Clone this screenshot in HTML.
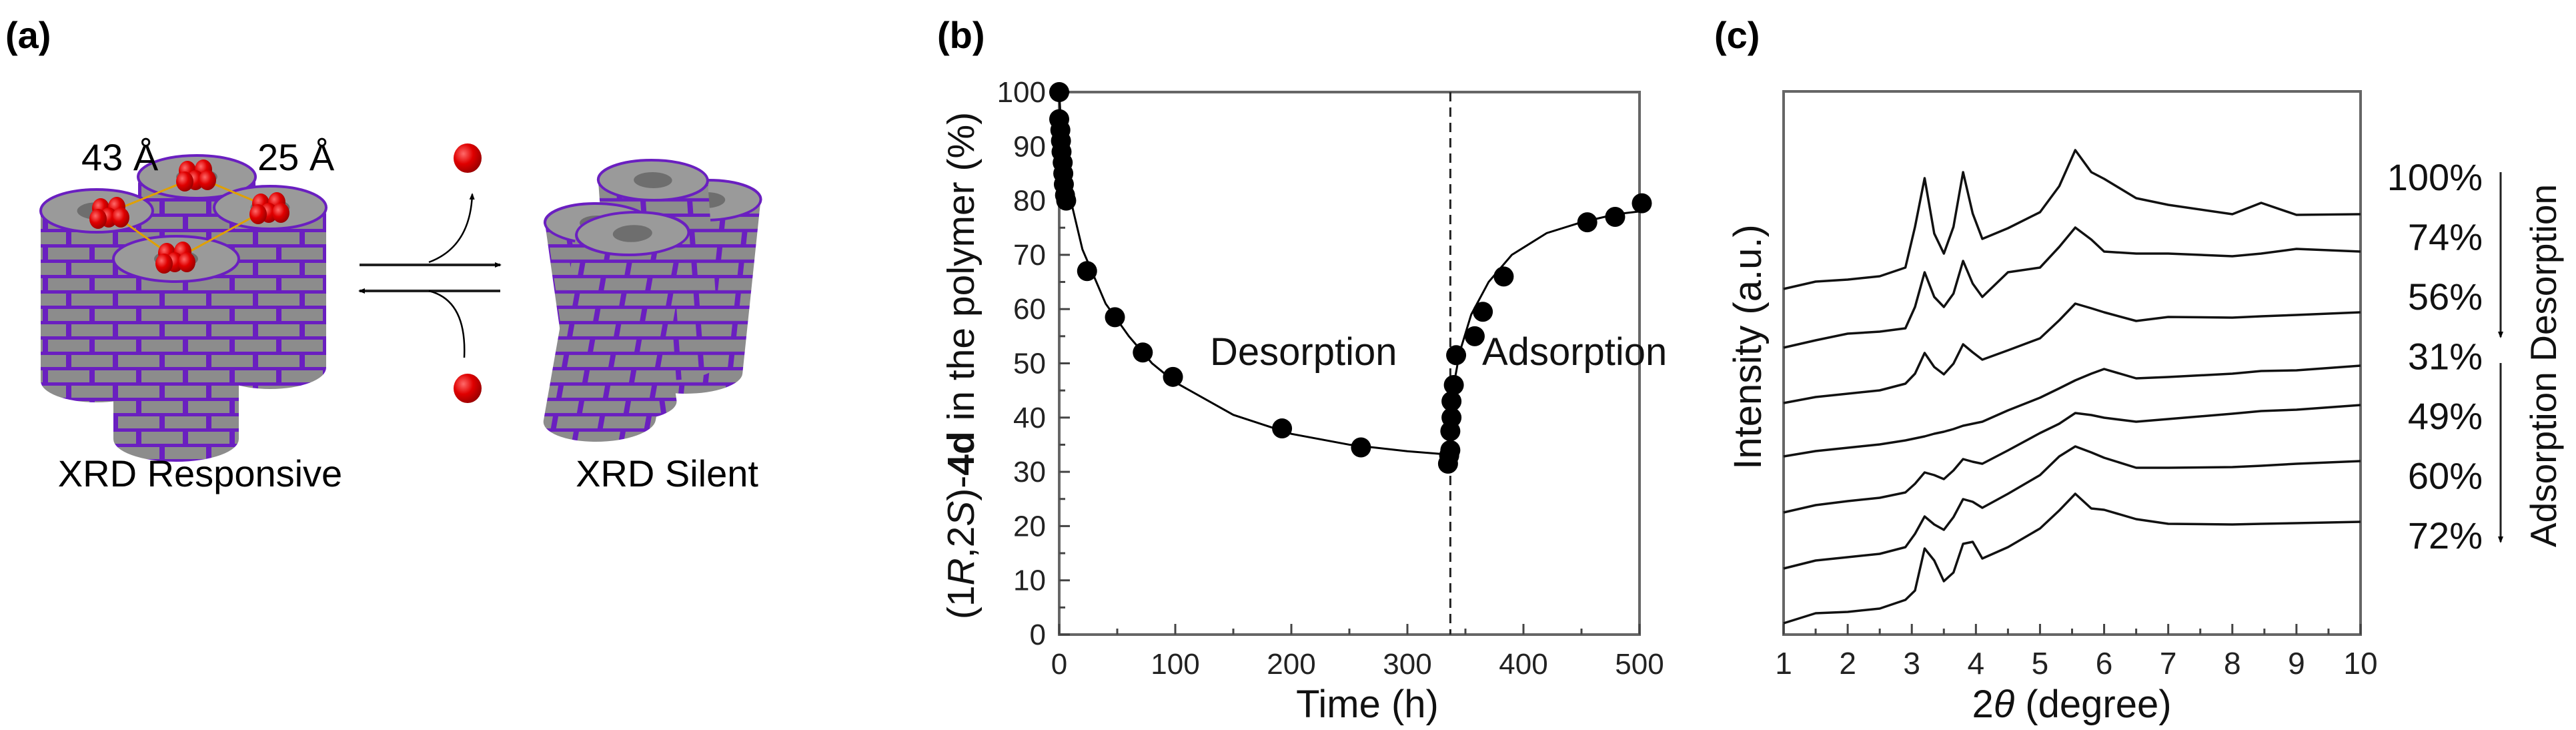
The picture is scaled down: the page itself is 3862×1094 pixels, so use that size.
<!DOCTYPE html>
<html><head><meta charset="utf-8"><style>
html,body{margin:0;padding:0;background:#fff;}
svg{display:block;font-family:"Liberation Sans",Arial,sans-serif;}
</style></head><body>
<svg id="fig" width="3862" height="1094" viewBox="0 0 3862 1094" xmlns="http://www.w3.org/2000/svg">
<defs>
<pattern id="brick" width="70" height="46" patternUnits="userSpaceOnUse">
<rect width="70" height="46" fill="#6a1fc0"/>
<rect x="2" y="3" width="62" height="18" fill="#8c8c8c"/>
<rect x="-33" y="26" width="62" height="18" fill="#8c8c8c"/>
<rect x="37" y="26" width="62" height="18" fill="#8c8c8c"/>
</pattern>
<radialGradient id="ball" cx="0.35" cy="0.35" r="0.7"><stop offset="0" stop-color="#ff6a6a"/><stop offset="0.5" stop-color="#e00000"/><stop offset="1" stop-color="#900"/></radialGradient>
<marker id="ah" markerWidth="10" markerHeight="10" refX="8" refY="5" orient="auto" markerUnits="userSpaceOnUse"><path d="M0,1 L10,5 L0,9 Z" fill="#000"/></marker>
</defs>

<!-- panel labels -->
<text x="8" y="72" font-size="56" font-weight="bold">(a)</text>
<text x="1405" y="72" font-size="56" font-weight="bold">(b)</text>
<text x="2570" y="72" font-size="56" font-weight="bold">(c)</text>

<!-- panel a illustration -->
<g id="panelA"></g>
<text x="122" y="255" font-size="56">43 Å</text>
<text x="386" y="255" font-size="56">25 Å</text>
<text x="300" y="729" font-size="56" text-anchor="middle">XRD Responsive</text>
<text x="1000" y="729" font-size="56" text-anchor="middle">XRD Silent</text>
<g>
<line x1="539" y1="397" x2="750" y2="397" stroke="#222" stroke-width="4" marker-end="url(#ah)"/>
<line x1="750" y1="436" x2="539" y2="436" stroke="#222" stroke-width="4" marker-end="url(#ah)"/>
<path d="M643,393 Q705,370 708,291" fill="none" stroke="#000" stroke-width="2.5" marker-end="url(#ah)"/>
<path d="M696,536 Q700,450 643,436" fill="none" stroke="#000" stroke-width="2.5"/>
</g>
<ellipse cx="701" cy="237" rx="21" ry="22" fill="url(#ball)"/>
<ellipse cx="701" cy="582" rx="21" ry="22" fill="url(#ball)"/>

<!-- panel b -->
<g id="panelB"></g>
<!-- panel c -->
<g id="panelC"></g>
</svg>
<script>
// ===== Panel B data =====
const bTime = [0,0,1,1.5,2,3,3.5,4,5,6,24,48,72,98,192,260,335,336,337,337,338,338,340,342,358,365,383,455,479,502];
const bValue = [100,95,93,91,89,87,85,83,81,80,67,58.5,52,47.5,38,34.5,31.5,33,34,37.5,40,43,46,51.5,55,59.5,66,76,77,79.5];
const desFitTime = [0,2,5,10,20,40,60,80,100,150,200,250,300,335];
const desFitValue = [100,92,86,80,71,61,55,50,46.5,40.5,37,35,33.8,33.2];
const adsFitTime = [335,337,340,345,355,370,390,420,450,480,500];
const adsFitValue = [33,40,46,52,59,65,70,74,76,77.5,78];
const bXTicks = [0,100,200,300,400,500];
const bYTicks = [0,10,20,30,40,50,60,70,80,90,100];
const switchTime = 337;

// ===== Panel C data =====
const cTheta = [1,1.5,2,2.5,2.9,3.05,3.2,3.35,3.5,3.65,3.8,3.95,4.1,4.5,5,5.3,5.55,5.8,6,6.5,7,8,8.45,9,10];
const trace100 = [518,529,532,537,550,611,684,601,571,611,693,631,593,609,633,672,726,693,683,654,644,630,647,629,630];
const trace74 = [430,441,451,454,459,491,543,506,491,511,560,526,506,543,550,581,610,592,574,571,571,567,571,578,574];
const trace56 = [347,356,361,366,376,391,422,401,390,406,435,423,412,426,444,471,496,489,483,470,476,475,477,479,483];
const trace31 = [267,275,280,285,291,294,297,301,304,308,313,316,319,336,355,369,381,391,398,384,386,391,395,396,403];
const trace49 = [183,194,200,205,213,226,243,239,233,246,263,259,256,276,302,316,332,329,325,319,323,331,335,337,344];
const trace60 = [99,111,116,121,131,151,177,165,157,176,203,199,190,211,239,267,282,273,265,250,250,251,253,256,260];
const trace72 = [17,32,34,39,52,66,129,111,80,93,136,139,114,131,159,186,211,189,187,173,166,165,166,167,169];
const cLabels = ["100%","74%","56%","31%","49%","60%","72%"];
const cXTicks = [1,2,3,4,5,6,7,8,9,10];

const NS = "http://www.w3.org/2000/svg";
function mk(tag, attrs, parent){const e=document.createElementNS(NS,tag);for(const k in attrs)e.setAttribute(k,attrs[k]);parent.appendChild(e);return e;}

// ----- Panel A drawing -----
(function(){
  const g=document.getElementById('panelA');
  function column(cx,top,bot,rx,ry,name,skew){
    const c=mk('g',{transform:skew?`translate(${cx},0) skewX(${skew}) translate(${-cx},0)`:''},g);
    
    
    mk('path',{d:`M${cx-rx},${top} L${cx-rx},${bot} A${rx},${ry} 0 0 0 ${cx+rx},${bot} L${cx+rx},${top} Z`,fill:'url(#brick)'},c);
    mk('ellipse',{cx:cx,cy:top,rx:rx,ry:ry,fill:'#9a9a9a',stroke:'#6a1fc0','stroke-width':4},c);
    mk('ellipse',{cx:cx,cy:top,rx:rx*0.35,ry:ry*0.4,fill:'#6e6e6e'},c);
  }
  column(295,265,520,88,32,'column-back');
  column(145,316,571,84,32,'column-left');
  column(405,311,551,84,32,'column-right');
  column(264,388,658,94,34,'column-front');
  const cell=mk('polygon',{points:'165,318 295,265 405,311 264,388',fill:'none',stroke:'#e0a000','stroke-width':3},g);
  
  
  [[295,262],[165,318],[405,311],[264,385]].forEach((p,i)=>{
    [[-14,-6],[10,-8],[-2,8],[16,8],[-18,10]].forEach(o=>{
      const b=mk('ellipse',{cx:p[0]+o[0],cy:p[1]+o[1],rx:13,ry:15,fill:'url(#ball)'},g);
      
      
    });
  });
  column(1090,300,560,82,30,'silent-column-back-right',-6);
  column(960,270,540,82,30,'silent-column-back',4);
  column(850,335,600,80,30,'silent-column-left',8);
  column(1010,350,630,84,32,'silent-column-front',-10);
})();

// ----- Panel B chart -----
(function(){
  const g=document.getElementById('panelB');
  const X0=1588,X1=2458,Y0=951,Y1=138;
  const sx=t=>X0+(t-0)/(500-0)*(X1-X0);
  const sy=v=>Y0-(v-0)/(100-0)*(Y0-Y1);
  const frame=mk('rect',{x:X0,y:Y1,width:X1-X0,height:Y0-Y1,fill:'none',stroke:'#666','stroke-width':4},g);
  
  
  bYTicks.forEach(v=>{
    mk('line',{x1:X0,x2:X0+16,y1:sy(v),y2:sy(v),stroke:'#444','stroke-width':3},g);
    if(v<100) mk('line',{x1:X0,x2:X0+9,y1:sy(v+5),y2:sy(v+5),stroke:'#444','stroke-width':3},g);
    const t=mk('text',{x:X0-20,y:sy(v)+15,'font-size':44,'text-anchor':'end',fill:'#222'},g);
    t.textContent=v;
    
    
  });
  bXTicks.forEach(v=>{
    mk('line',{x1:sx(v),x2:sx(v),y1:Y0,y2:Y0-16,stroke:'#444','stroke-width':3},g);
    if(v<500) mk('line',{x1:sx(v+50),x2:sx(v+50),y1:Y0,y2:Y0-9,stroke:'#444','stroke-width':3},g);
    const t=mk('text',{x:sx(v),y:1010,'font-size':44,'text-anchor':'middle',fill:'#222'},g);
    t.textContent=v;
    
    
  });
  const dl=mk('line',{x1:sx(switchTime),x2:sx(switchTime),y1:Y1,y2:Y0,stroke:'#222','stroke-width':3,'stroke-dasharray':'14,9'},g);
  
  
  const p1=mk('polyline',{points:desFitTime.map((t,i)=>sx(t)+','+sy(desFitValue[i])).join(' '),fill:'none',stroke:'#000','stroke-width':3},g);
  
  
  const p2=mk('polyline',{points:adsFitTime.map((t,i)=>sx(t)+','+sy(adsFitValue[i])).join(' '),fill:'none',stroke:'#000','stroke-width':3},g);
  
  
  bTime.forEach((t,i)=>{
    const c=mk('circle',{cx:sx(t),cy:sy(bValue[i]),r:15,fill:'#000'},g);
    
    
  });
  const d=mk('text',{x:1814,y:547,'font-size':58,fill:'#111'},g);d.textContent='Desorption';
  
  
  const a=mk('text',{x:2222,y:547,'font-size':58,fill:'#111'},g);a.textContent='Adsorption';
  
  
  const xt=mk('text',{x:2050,y:1075,'font-size':58,'text-anchor':'middle',fill:'#111'},g);xt.textContent='Time (h)';
  
  
  const yt=mk('text',{x:0,y:0,'font-size':57,'text-anchor':'middle',fill:'#111',transform:'translate(1460,548) rotate(-90)'},g);
  yt.innerHTML='(1<tspan font-style="italic">R</tspan>,2<tspan font-style="italic">S</tspan>)-<tspan font-weight="bold">4d</tspan> in the polymer (%)';
  
  
})();

// ----- Panel C chart -----
(function(){
  const g=document.getElementById('panelC');
  const X0=2674,X1=3539,Y0=951,Y1=137;
  const sx=t=>X0+(t-1)/(10-1)*(X1-X0);
  const sy=v=>Y0-v;
  const frame=mk('rect',{x:X0,y:Y1,width:X1-X0,height:Y0-Y1,fill:'none',stroke:'#666','stroke-width':4},g);
  
  
  cXTicks.forEach(v=>{
    mk('line',{x1:sx(v),x2:sx(v),y1:Y0,y2:Y0-16,stroke:'#444','stroke-width':3},g);
    if(v<10) mk('line',{x1:sx(v+0.5),x2:sx(v+0.5),y1:Y0,y2:Y0-9,stroke:'#444','stroke-width':3},g);
    const t=mk('text',{x:sx(v),y:1010,'font-size':46,'text-anchor':'middle',fill:'#222'},g);
    t.textContent=v;
    
    
  });
  const traces=[trace100,trace74,trace56,trace31,trace49,trace60,trace72];
  traces.forEach((tr,k)=>{
    const p=mk('polyline',{points:cTheta.map((t,i)=>sx(t)+','+sy(tr[i])).join(' '),fill:'none',stroke:'#111','stroke-width':3.5,'stroke-linejoin':'round'},g);
    
    
    const lb=mk('text',{x:3722,y:sy(tr[tr.length-1])-56+20+ (k*0),'font-size':56,'text-anchor':'end',fill:'#111'},g);
    lb.setAttribute('y', 285+k*89.5);
    lb.textContent=cLabels[k];
    
    
  });
  const a1=mk('line',{x1:3749,y1:258,x2:3749,y2:505,stroke:'#222','stroke-width':3,'marker-end':'url(#ah)'},g);
  
  
  const a2=mk('line',{x1:3749,y1:544,x2:3749,y2:812,stroke:'#222','stroke-width':3,'marker-end':'url(#ah)'},g);
  
  
  const rt=mk('text',{x:0,y:0,'font-size':55,'text-anchor':'middle',fill:'#111',transform:'translate(3832,548) rotate(-90)'},g);
  rt.textContent='Adsorption  Desorption';
  
  
  const yt=mk('text',{x:0,y:0,'font-size':58,'text-anchor':'middle',fill:'#111',transform:'translate(2640,520) rotate(-90)'},g);
  yt.textContent='Intensity (a.u.)';
  
  
  const xt=mk('text',{x:3106,y:1075,'font-size':58,'text-anchor':'middle',fill:'#111'},g);
  xt.innerHTML='2<tspan font-style="italic">θ</tspan> (degree)';
  
  
})();
</script>
</body></html>
